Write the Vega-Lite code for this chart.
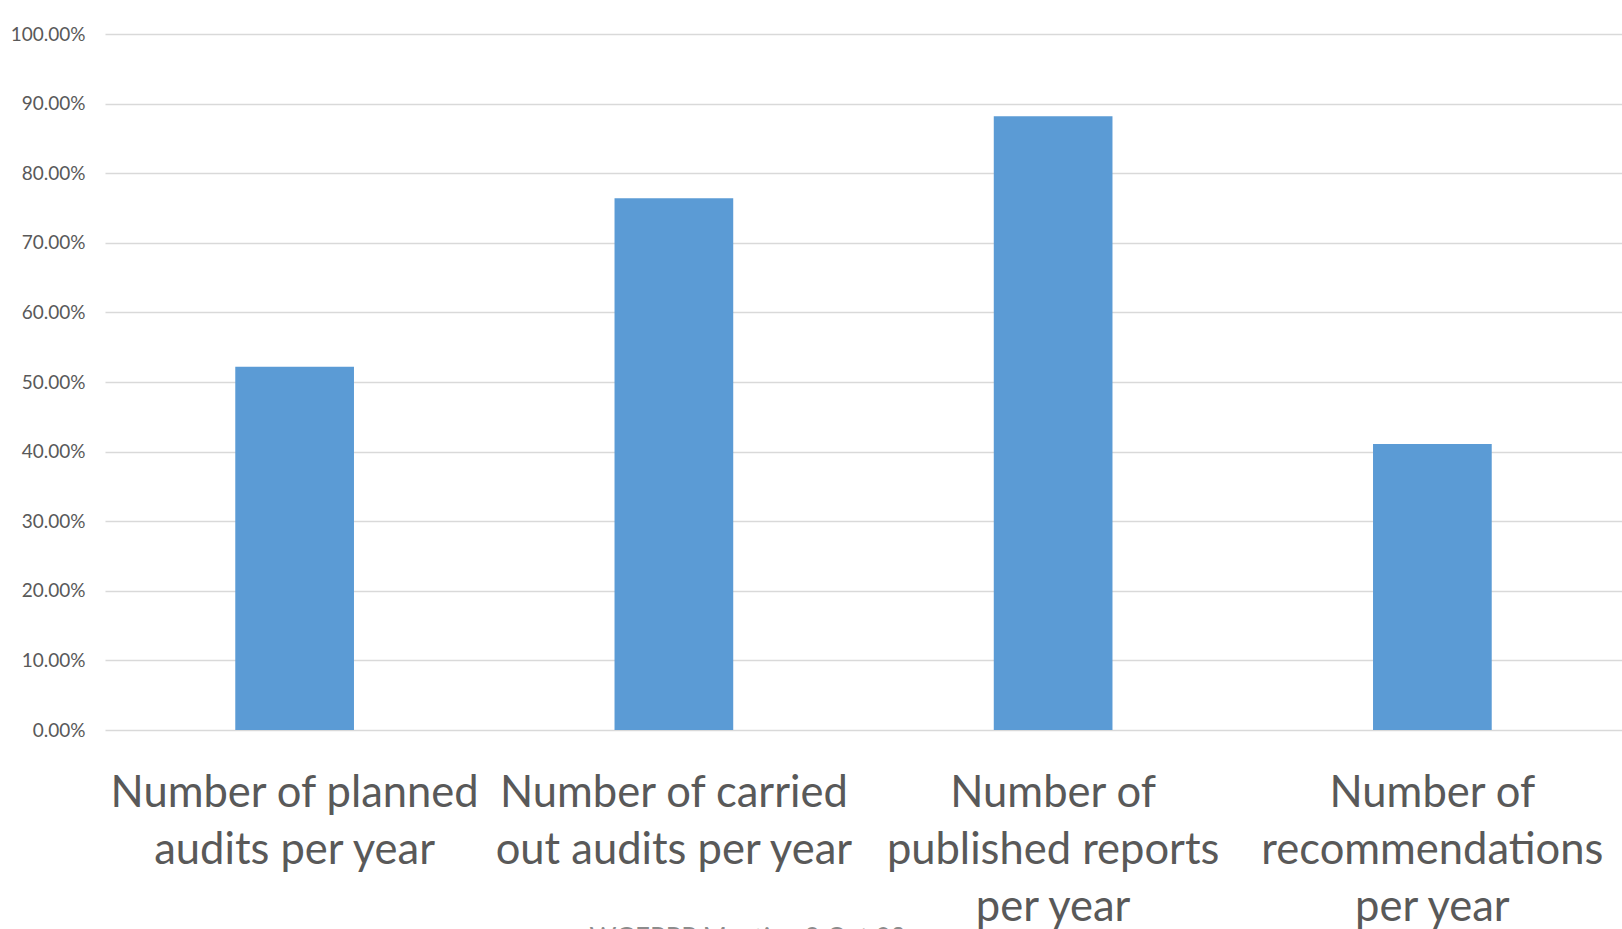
{
  "$schema": "https://vega.github.io/schema/vega-lite/v6.json",
  "width": 1517,
  "height": 696,
  "autosize": {"type": "none"},
  "padding": {"left": 105, "top": 34, "right": 0, "bottom": 199},
  "background": "white",
  "data": {
    "values": [
      {"category": "Number of planned audits per year", "share": 0.522},
      {"category": "Number of carried out audits per year", "share": 0.764},
      {"category": "Number of published reports per year", "share": 0.882},
      {"category": "Number of recommendations per year", "share": 0.411}
    ]
  },
  "config": {
    "view": {"stroke": null},
    "font": "Lato"
  },
  "mark": {"type": "bar", "color": "#5B9BD5"},
  "encoding": {
    "x": {
      "field": "category",
      "type": "nominal",
      "sort": null,
      "scale": {"paddingInner": 0.687, "paddingOuter": 0.3435},
      "axis": {
        "title": "WGEPPP Meeting 9 Oct 23",
        "titleX": 642,
        "titleY": 195,
        "titleAlign": "center",
        "titleBaseline": "top",
        "titleFontSize": 26,
        "titleFontWeight": "normal",
        "titleColor": "#8C8C8C",
        "titleFont": "Lato",
        "labelAngle": 0,
        "labelFontSize": 43.5,
        "labelColor": "#595959",
        "labelFont": "Lato",
        "labelLineHeight": 57,
        "labelPadding": 42,
        "labelLimit": 0,
        "labelOverlap": false,
        "labelBound": false,
        "labelFlush": false,
        "ticks": false,
        "domain": false,
        "labelExpr": "datum.value == 'Number of planned audits per year' ? ['Number of planned', 'audits per year'] : datum.value == 'Number of carried out audits per year' ? ['Number of carried', 'out audits per year'] : datum.value == 'Number of published reports per year' ? ['Number of', 'published reports', 'per year'] : ['Number of', 'recommendations', 'per year']"
      }
    },
    "y": {
      "field": "share",
      "type": "quantitative",
      "scale": {"domain": [0, 1], "nice": false},
      "axis": {
        "title": null,
        "values": [0, 0.1, 0.2, 0.3, 0.4, 0.5, 0.6, 0.7, 0.8, 0.9, 1.0],
        "format": ".2%",
        "labelFontSize": 19,
        "labelColor": "#595959",
        "labelFont": "Lato",
        "labelPadding": 20,
        "ticks": false,
        "domain": false,
        "grid": true,
        "gridColor": "#D9D9D9",
        "gridWidth": 1.5
      }
    }
  }
}
